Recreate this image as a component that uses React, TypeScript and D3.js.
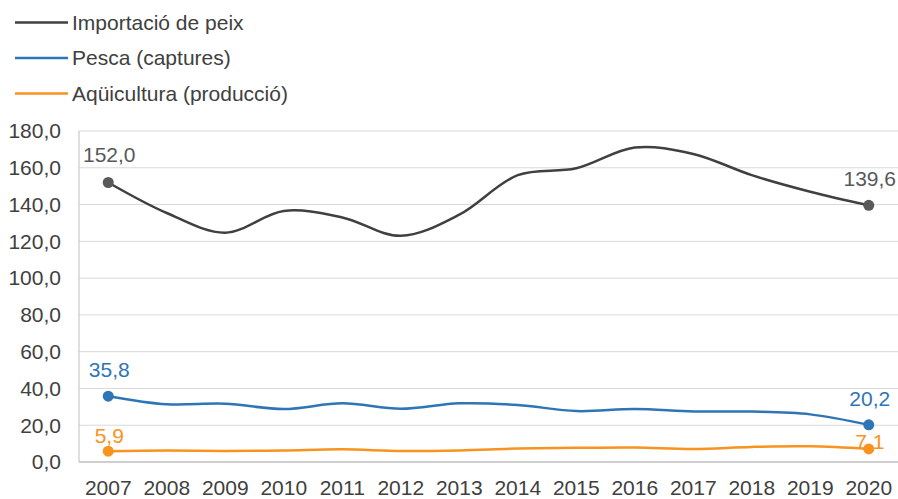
import React from "react";
import * as d3 from "d3";

const years = ["2007","2008","2009","2010","2011","2012","2013","2014","2015","2016","2017","2018","2019","2020"];
const importacio = [152.0,135.4,124.7,136.5,133.0,123.0,134.5,156.0,159.7,171.0,167.5,156.0,147.0,139.6];
const pesca = [35.8,31.4,31.7,28.8,31.9,28.9,31.9,31.0,27.7,28.8,27.5,27.4,25.9,20.2];
const aquicultura = [5.9,6.2,6.0,6.3,6.9,6.0,6.3,7.3,7.7,7.9,7.1,8.2,8.5,7.1];
const yTicks = [0,20,40,60,80,100,120,140,160,180];

const seriesNames = ["Importació de peix","Pesca (captures)","Aqüicultura (producció)"];
const lineColors = ["#404040","#2E75B6","#F7931E"];
const markerColors = ["#595959","#2E75B6","#F7931E"];
// label vertical offsets (first, last) relative to the marker
const labelOffsets = [[-20, -19], [-19, -19], [-8, 0]];

const W = 898, H = 499;
const left = 79, right = 898, top = 131, bottom = 462;
const font = "'Liberation Sans', Arial, sans-serif";
const fmt = (v: number) => v.toFixed(1).replace(".", ",");

export default function App() {
  const x = d3.scaleBand<string>().domain(years).range([left, right]);
  const y = d3.scaleLinear().domain([0, 180]).range([bottom, top]);
  const cx = (i: number) => (x(years[i]) as number) + x.bandwidth() / 2;
  const line = d3.line<number>().x((_, i) => cx(i)).y((d) => y(d)).curve(d3.curveCatmullRom.alpha(0.5));
  const data = [importacio, pesca, aquicultura];
  const last = years.length - 1;
  return (
    <svg width={W} height={H} style={{ position: "absolute", left: 0, top: 0, background: "#fff" }} fontFamily={font}>
      {yTicks.map((t) => (
        <g key={t}>
          {t > 0 && <line x1={left} x2={right} y1={y(t)} y2={y(t)} stroke="#d9d9d9" strokeWidth={1} />}
          <text x={61} y={y(t)} dy="0.35em" textAnchor="end" fontSize={21} fill="#404040">{fmt(t)}</text>
        </g>
      ))}
      <line x1={left} x2={left} y1={top} y2={bottom} stroke="#bfbfbf" strokeWidth={1} />
      <line x1={left} x2={right} y1={bottom} y2={bottom} stroke="#bfbfbf" strokeWidth={1.5} />
      {years.map((yr, i) => (
        <text key={yr} x={cx(i)} y={495} textAnchor="middle" fontSize={21} fill="#404040">{yr}</text>
      ))}
      {data.map((s, k) => (
        <g key={k}>
          <path d={line(s) || ""} fill="none" stroke={lineColors[k]} strokeWidth={2.5} />
          {[0, last].map((i, j) => (
            <g key={i}>
              <circle cx={cx(i)} cy={y(s[i])} r={5.5} fill={markerColors[k]} />
              <text x={cx(i) + 1} y={y(s[i]) + labelOffsets[k][j]} textAnchor="middle" fontSize={21} fill={markerColors[k]}>{fmt(s[i])}</text>
            </g>
          ))}
        </g>
      ))}
      {seriesNames.map((n, k) => (
        <g key={n}>
          <line x1={15} x2={68} y1={22.5 + k * 35.5} y2={22.5 + k * 35.5} stroke={lineColors[k]} strokeWidth={2.5} />
          <text x={72} y={22.5 + k * 35.5} dy="0.35em" fontSize={21} fill="#404040">{n}</text>
        </g>
      ))}
    </svg>
  );
}
